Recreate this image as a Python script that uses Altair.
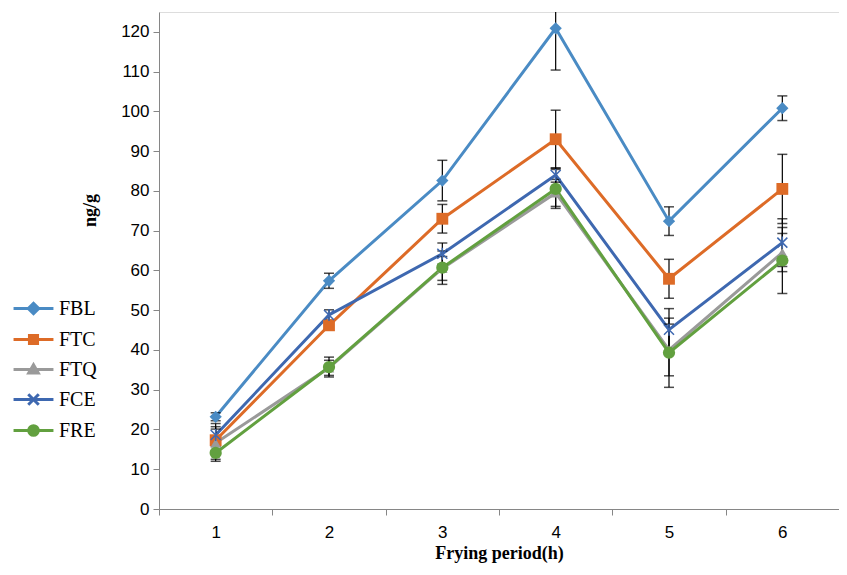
import altair as alt
import pandas as pd

periods = [1, 2, 3, 4, 5, 6]
series_names = ["FBL", "FTC", "FTQ", "FCE", "FRE"]

fbl = [23.2, 57.4, 82.6, 120.9, 72.4, 100.8]
fbl_err = [1.0, 1.9, 5.1, 10.5, 3.6, 3.1]
ftc = [17.3, 46.2, 73.0, 93.0, 57.9, 80.5]
ftc_err = [2.8, 1.0, 3.6, 7.3, 4.9, 8.7]
ftq = [16.6, 35.5, 60.5, 79.5, 40.0, 64.5]
ftq_err = [4.1, 1.9, 3.0, 3.4, 6.5, 4.8]
fce = [18.6, 48.8, 64.2, 84.0, 45.1, 67.0]
fce_err = [2.9, 1.3, 2.7, 1.8, 5.3, 6.0]
fre = [14.1, 35.7, 60.7, 80.5, 39.3, 62.5]
fre_err = [2.1, 2.5, 4.2, 4.9, 8.7, 8.3]

colors = ["#4A8BC4", "#DD6B27", "#9A9A9A", "#3E68B0", "#62A03F"]
shapes = ["diamond", "square", "triangle-up",
          "M-1,-1L1,1M-1,1L1,-1M0,-1.2L0,1.2", "circle"]
sizes = [150, 140, 110, 100, 150]
# legend symbols: a short line with the marker on it (unit box scaled by sqrt(size)/2 = 15px)
legend_paths = [
    "M-1.33,0H1.33M-0.35,0L0,-0.35L0.35,0L0,0.35Z",
    "M-1.33,0H1.33M-0.27,-0.27H0.27V0.27H-0.27Z",
    "M-1.33,0H1.33M-0.32,0.24L0,-0.32L0.32,0.24Z",
    "M-1.33,0H1.33M-0.35,-0.35L0.35,0.35M-0.35,0.35L0.35,-0.35",
    "M-1.33,0H1.33M-0.32,0A0.32,0.32,0,1,0,0.32,0A0.32,0.32,0,1,0,-0.32,0Z",
]

values = [fbl, ftc, ftq, fce, fre]
errors = [fbl_err, ftc_err, ftq_err, fce_err, fre_err]

rows = []
for name, vals, errs in zip(series_names, values, errors):
    for p, v, e in zip(periods, vals, errs):
        rows.append({"series": name, "period": p, "value": v, "lo": v - e, "hi": v + e})
df = pd.DataFrame(rows)

axis_gray = "#868686"
x_enc = alt.X(
    "period:O",
    scale=alt.Scale(type="band", paddingInner=0, paddingOuter=0),
    axis=alt.Axis(
        title="Frying period(h)", tickBand="extent", labelAngle=0,
        labelFont="Liberation Sans", labelFontSize=17, labelColor="black",
        labelPadding=9, titleFont="Liberation Serif", titleFontSize=18,
        titleFontWeight="bold", titleColor="black", titlePadding=4,
        domainColor=axis_gray, tickColor=axis_gray, tickSize=6,
        grid=False,
    ),
)
y_scale = alt.Scale(domain=[0, 125], nice=False, zero=True)
y_axis = alt.Axis(
    title="ng/g", values=list(range(0, 121, 10)),
    labelFont="Liberation Sans", labelFontSize=17, labelColor="black",
    labelPadding=4, titleFont="Liberation Serif", titleFontSize=18,
    titleFontWeight="bold", titleColor="black", titleX=-60, titleY=198,
    domainColor=axis_gray, tickColor=axis_gray, tickSize=6, grid=False,
)

layers = []
for name, col in zip(series_names, colors):
    base = alt.Chart(df).transform_filter(alt.datum.series == name)
    layers.append(base.mark_line(color=col, strokeWidth=3).encode(
        x=x_enc, y=alt.Y("value:Q", scale=y_scale, axis=y_axis)))

for name in series_names:
    base = alt.Chart(df).transform_filter(alt.datum.series == name)
    layers.append(base.mark_rule(color="black", strokeWidth=1.2, clip=True).encode(
        x=x_enc, y=alt.Y("lo:Q", scale=y_scale, axis=y_axis), y2="hi:Q"))
    layers.append(base.mark_tick(color="black", thickness=1.5, size=10, orient="horizontal", clip=True).encode(
        x=x_enc, y=alt.Y("lo:Q", scale=y_scale, axis=y_axis)))
    layers.append(base.mark_tick(color="black", thickness=1.5, size=10, orient="horizontal", clip=True).encode(
        x=x_enc, y=alt.Y("hi:Q", scale=y_scale, axis=y_axis)))

for name, col, shp, sz in zip(series_names, colors, shapes, sizes):
    base = alt.Chart(df).transform_filter(alt.datum.series == name)
    if shp.startswith("M"):
        mk = base.mark_point(shape=shp, size=sz, filled=False, color=col, strokeWidth=1.5, opacity=1)
    else:
        mk = base.mark_point(shape=shp, size=sz, filled=True, color=col, opacity=1)
    layers.append(mk.encode(x=x_enc, y=alt.Y("value:Q", scale=y_scale, axis=y_axis)))

legend = alt.Legend(
    title=None, orient="none", legendX=-142, legendY=280,
    labelFont="Liberation Serif", labelFontSize=20, labelColor="black",
    symbolSize=900, symbolStrokeWidth=3, labelOffset=9, rowPadding=3,
)
legend_layer = alt.Chart(df).mark_point(clip=True, size=900, strokeWidth=3, opacity=1, filled=True).encode(
    x=x_enc,
    y=alt.value(-300),
    shape=alt.Shape("series:N", scale=alt.Scale(domain=series_names, range=legend_paths), legend=legend),
    fill=alt.Fill("series:N", scale=alt.Scale(domain=series_names, range=colors), legend=legend),
    stroke=alt.Stroke("series:N", scale=alt.Scale(domain=series_names, range=colors), legend=legend),
)
layers.append(legend_layer)

chart = alt.layer(*layers).properties(
    width=680, height=497,
    autosize=alt.AutoSizeParams(type="none"),
    padding={"left": 151, "top": 4, "right": 0, "bottom": 58},
).configure_view(stroke=None).configure(background="white")

chart.save("out.html", embed_options={"renderer": "svg", "actions": False})
